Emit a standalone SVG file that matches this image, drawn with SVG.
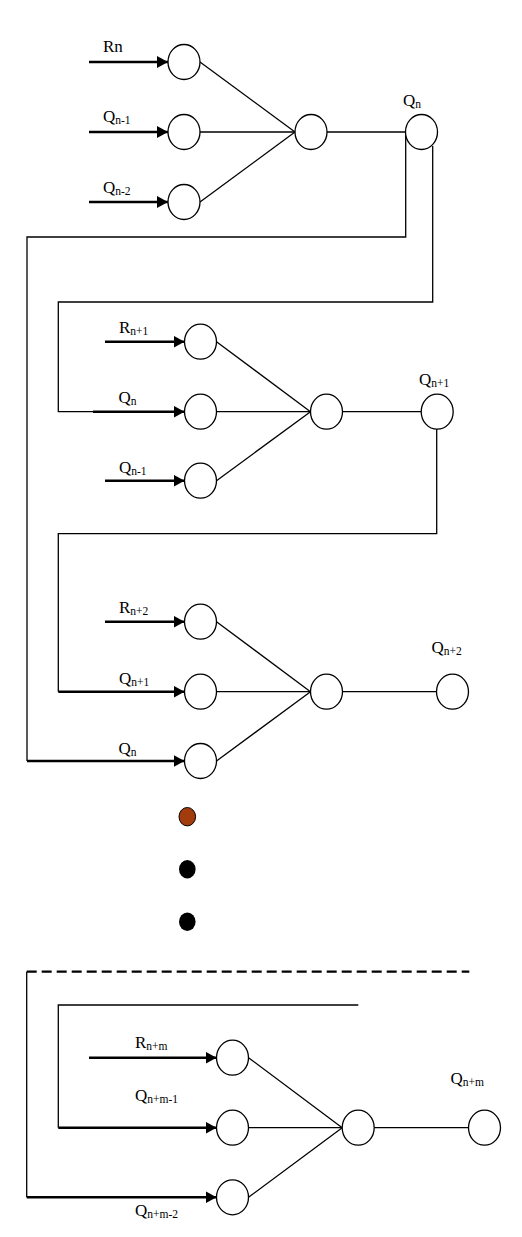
<svg xmlns="http://www.w3.org/2000/svg" width="522" height="1237" viewBox="0 0 522 1237">
<style>
.n{fill:#fff;stroke:#000;stroke-width:1.3}
.e{fill:none;stroke:#000;stroke-width:1.3}
.a{fill:none;stroke:#000;stroke-width:2.6}
.d{fill:none;stroke:#000;stroke-width:2.2;stroke-dasharray:10 5}
text{font-family:"Liberation Serif","Times New Roman",serif;font-size:17px;fill:#000}
.s{font-size:11.5px}
</style>
<defs>
<marker id="ah" markerUnits="userSpaceOnUse" markerWidth="11" markerHeight="12" refX="11" refY="6" orient="auto">
<path d="M0,0 L11,6 L0,12 z" fill="#000"/>
</marker>
</defs>
<rect width="522" height="1237" fill="#fff"/>
<g id="connectors">
<!-- block 1 -->
<line class="a" x1="89" y1="62" x2="168" y2="62" marker-end="url(#ah)"/>
<line class="a" x1="89" y1="132" x2="168" y2="132" marker-end="url(#ah)"/>
<line class="a" x1="89" y1="202" x2="168" y2="202" marker-end="url(#ah)"/>
<line class="e" x1="200" y1="62" x2="295" y2="132"/>
<line class="e" x1="200" y1="132" x2="295" y2="132"/>
<line class="e" x1="200" y1="202" x2="295" y2="132"/>
<line class="e" x1="327" y1="132" x2="405.5" y2="132"/>
<path class="e" d="M405.7,132 V237 H27 V761"/>
<path class="e" d="M432.7,146 V302 H58.3 V411.7 H93"/>
<!-- block 2 -->
<line class="a" x1="105" y1="341.7" x2="184.5" y2="341.7" marker-end="url(#ah)"/>
<line class="a" x1="93" y1="411.7" x2="184.5" y2="411.7" marker-end="url(#ah)"/>
<line class="a" x1="105" y1="480.7" x2="184.5" y2="480.7" marker-end="url(#ah)"/>
<line class="e" x1="216.5" y1="341.7" x2="310.5" y2="411.7"/>
<line class="e" x1="216.5" y1="411.7" x2="310.5" y2="411.7"/>
<line class="e" x1="216.5" y1="480.7" x2="310.5" y2="411.7"/>
<line class="e" x1="342.5" y1="411.7" x2="421.2" y2="411.7"/>
<path class="e" d="M436.7,429 V533.7 H58.3 V691.7"/>
<!-- block 3 -->
<line class="a" x1="105" y1="621.7" x2="184.5" y2="621.7" marker-end="url(#ah)"/>
<line class="a" x1="58.3" y1="691.7" x2="184.5" y2="691.7" marker-end="url(#ah)"/>
<line class="a" x1="27" y1="761" x2="184.5" y2="761" marker-end="url(#ah)"/>
<line class="e" x1="216.5" y1="621.7" x2="310.5" y2="691.7"/>
<line class="e" x1="216.5" y1="691.7" x2="310.5" y2="691.7"/>
<line class="e" x1="216.5" y1="761" x2="310.5" y2="691.7"/>
<line class="e" x1="342.5" y1="691.7" x2="436.5" y2="691.7"/>
<!-- bottom block -->
<line class="d" x1="26.7" y1="971.7" x2="469.3" y2="971.7"/>
<path class="e" d="M26.7,971.7 V1197.3"/>
<path class="e" d="M358.3,1005 H58.3 V1127.7"/>
<line class="a" x1="89" y1="1057.7" x2="216.5" y2="1057.7" marker-end="url(#ah)"/>
<line class="a" x1="58.3" y1="1127.7" x2="216.5" y2="1127.7" marker-end="url(#ah)"/>
<line class="a" x1="26.7" y1="1197.3" x2="216.5" y2="1197.3" marker-end="url(#ah)"/>
<line class="e" x1="248.5" y1="1057.7" x2="342.2" y2="1127.7"/>
<line class="e" x1="248.5" y1="1127.7" x2="342.2" y2="1127.7"/>
<line class="e" x1="248.5" y1="1197.3" x2="342.2" y2="1127.7"/>
<line class="e" x1="374.2" y1="1127.7" x2="468.5" y2="1127.7"/>
</g>
<!-- block 1 nodes -->
<g id="b1_in1"><ellipse class="n" cx="184" cy="62" rx="16" ry="17.5"/><text x="103" y="52">Rn</text></g>
<g id="b1_in2"><ellipse class="n" cx="184" cy="132" rx="16" ry="17.5"/><text x="103" y="122">Q<tspan class="s" dy="2">n-1</tspan></text></g>
<g id="b1_in3"><ellipse class="n" cx="184" cy="202" rx="16" ry="17.5"/><text x="103" y="193">Q<tspan class="s" dy="2">n-2</tspan></text></g>
<g id="b1_sum"><ellipse class="n" cx="311" cy="132" rx="16" ry="17.5"/></g>
<g id="b1_out"><ellipse class="n" cx="421.5" cy="132" rx="16" ry="17.5"/><text x="403" y="106">Q<tspan class="s" dy="2">n</tspan></text></g>
<!-- block 2 nodes -->
<g id="b2_in1"><ellipse class="n" cx="200.5" cy="341.7" rx="16" ry="17.5"/><text x="119" y="333">R<tspan class="s" dy="2">n+1</tspan></text></g>
<g id="b2_in2"><ellipse class="n" cx="200.5" cy="411.7" rx="16" ry="17.5"/><text x="118.5" y="403">Q<tspan class="s" dy="2">n</tspan></text></g>
<g id="b2_in3"><ellipse class="n" cx="200.5" cy="480.7" rx="16" ry="17.5"/><text x="119" y="473">Q<tspan class="s" dy="2">n-1</tspan></text></g>
<g id="b2_sum"><ellipse class="n" cx="326.5" cy="411.7" rx="16" ry="17.5"/></g>
<g id="b2_out"><ellipse class="n" cx="437.2" cy="411.7" rx="16" ry="17.5"/><text x="419" y="385">Q<tspan class="s" dy="2">n+1</tspan></text></g>
<!-- block 3 nodes -->
<g id="b3_in1"><ellipse class="n" cx="200.5" cy="621.7" rx="16" ry="17.5"/><text x="119" y="613">R<tspan class="s" dy="2">n+2</tspan></text></g>
<g id="b3_in2"><ellipse class="n" cx="200.5" cy="691.7" rx="16" ry="17.5"/><text x="119" y="684">Q<tspan class="s" dy="2">n+1</tspan></text></g>
<g id="b3_in3"><ellipse class="n" cx="200.5" cy="761" rx="16" ry="17.5"/><text x="118.5" y="754">Q<tspan class="s" dy="2">n</tspan></text></g>
<g id="b3_sum"><ellipse class="n" cx="326.5" cy="691.7" rx="16" ry="17.5"/></g>
<g id="b3_out"><ellipse class="n" cx="452.5" cy="691.7" rx="16" ry="17.5"/><text x="431.5" y="653">Q<tspan class="s" dy="2">n+2</tspan></text></g>
<!-- ellipsis dots -->
<g id="dots">
<ellipse cx="187.3" cy="816.7" rx="8.3" ry="9.2" fill="#a33c0c" stroke="#000" stroke-width="1"/>
<ellipse cx="187.3" cy="869.3" rx="8.3" ry="9.2" fill="#000"/>
<ellipse cx="187.3" cy="921.7" rx="8.3" ry="9.2" fill="#000"/>
</g>
<!-- bottom block nodes -->
<g id="bm_in1"><ellipse class="n" cx="232.5" cy="1057.7" rx="16" ry="17.5"/><text x="135" y="1048">R<tspan class="s" dy="2">n+m</tspan></text></g>
<g id="bm_in2"><ellipse class="n" cx="232.5" cy="1127.7" rx="16" ry="17.5"/><text x="135" y="1101">Q<tspan class="s" dy="2">n+m-1</tspan></text></g>
<g id="bm_in3"><ellipse class="n" cx="232.5" cy="1197.3" rx="16" ry="17.5"/><text x="135" y="1216">Q<tspan class="s" dy="2">n+m-2</tspan></text></g>
<g id="bm_sum"><ellipse class="n" cx="358.2" cy="1127.7" rx="16" ry="17.5"/></g>
<g id="bm_out"><ellipse class="n" cx="484.5" cy="1127.7" rx="16" ry="17.5"/><text x="450.5" y="1084">Q<tspan class="s" dy="2">n+m</tspan></text></g>
</svg>
